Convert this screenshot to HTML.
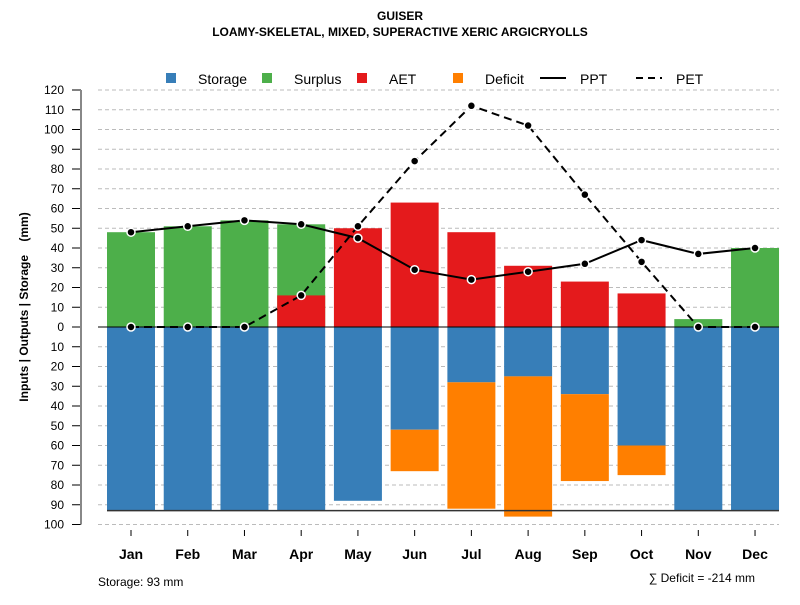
<!DOCTYPE html>
<html><head><meta charset="utf-8"><style>
body{margin:0;background:#fff}
svg text{font-family:"Liberation Sans",Arial,sans-serif}
</style></head><body>
<svg id="chart" width="800" height="600" xmlns="http://www.w3.org/2000/svg">
<text x="400" y="20" text-anchor="middle" font-size="12" font-weight="bold">GUISER</text>
<text x="400" y="36" text-anchor="middle" font-size="12" font-weight="bold">LOAMY-SKELETAL, MIXED, SUPERACTIVE XERIC ARGICRYOLLS</text>
<g id="legend">
<rect x="166" y="73" width="10" height="10" fill="#377EB8"/>
<text x="198" y="84" font-size="14">Storage</text>
<rect x="262" y="73" width="10" height="10" fill="#4DAF4A"/>
<text x="294" y="84" font-size="14">Surplus</text>
<rect x="357" y="73" width="10" height="10" fill="#E41A1C"/>
<text x="389" y="84" font-size="14">AET</text>
<rect x="453" y="73" width="10" height="10" fill="#FF7F00"/>
<text x="485" y="84" font-size="14">Deficit</text>
<line x1="540" y1="78" x2="566" y2="78" stroke="#000" stroke-width="2"/>
<text x="580" y="84" font-size="14">PPT</text>
<line x1="636" y1="78" x2="662" y2="78" stroke="#000" stroke-width="2" stroke-dasharray="7,5"/>
<text x="676" y="84" font-size="14">PET</text>
</g>
<text transform="translate(28,307) rotate(-90)" text-anchor="middle" font-size="12" font-weight="bold" style="white-space:pre">Inputs | Outputs | Storage    (mm)</text>
<text x="98" y="586" font-size="12">Storage: 93 mm</text>
<text x="755" y="582" text-anchor="end" font-size="12">∑ Deficit = -214 mm</text>
<g id="grid"></g><g id="bars"></g><g id="axes"></g><g id="lines"></g>
</svg>
<script>
const months=["Jan","Feb","Mar","Apr","May","Jun","Jul","Aug","Sep","Oct","Nov","Dec"];
const surplus=[48,51,54,52,0,0,0,0,0,0,4,40];
const aet=[0,0,0,16,50,63,48,31,23,17,0,0];
const storage=[93,93,93,93,88,52,28,25,34,60,93,93];
const deficit=[0,0,0,0,0,21,64,71,44,15,0,0];
const ppt=[48,51,54,52,45,29,24,28,32,44,37,40];
const pet=[0,0,0,16,51,84,112,102,67,33,0,0];
const yTicks=[120,110,100,90,80,70,60,50,40,30,20,10,0,-10,-20,-30,-40,-50,-60,-70,-80,-90,-100];
const storageMax=93;
const NS="http://www.w3.org/2000/svg";
const y=v=>327-v*1.975;
const x=i=>131+i*56.73;
const bw=48;
function mk(tag,attrs,parent,txt){const e=document.createElementNS(NS,tag);for(const k in attrs)e.setAttribute(k,attrs[k]);if(txt!==undefined)e.textContent=txt;document.getElementById(parent).appendChild(e);return e;}
yTicks.forEach(t=>{
 if(t!==0){const g=mk('line',{x1:98,x2:779,y1:y(t),y2:y(t),stroke:'#bbb','stroke-dasharray':'4,3'},'grid');
 
 }
 const tk=mk('line',{x1:72,x2:81,y1:y(t),y2:y(t),stroke:'#000'},'axes');
 
 
 const lb=mk('text',{x:64,y:y(t)+4,'text-anchor':'end','font-size':12},'axes',Math.abs(t));
 
 
});
const ax=mk('line',{x1:81,x2:81,y1:y(120),y2:y(-100),stroke:'#888','stroke-width':2},'axes');


months.forEach((m,i)=>{
 const cx=x(i);
 function bar(v0,v1,col,name){if(v1===v0)return;const r=mk('rect',{x:cx-bw/2,y:Math.min(y(v0),y(v1)),width:bw,height:Math.abs(y(v0)-y(v1)),fill:col},'bars');
  
  }
 bar(0,surplus[i],'#4DAF4A','surplus-bar-'+m.toLowerCase());
 bar(0,aet[i],'#E41A1C','aet-bar-'+m.toLowerCase());
 bar(0,-storage[i],'#377EB8','storage-bar-'+m.toLowerCase());
 bar(-storage[i],-storage[i]-deficit[i],'#FF7F00','deficit-bar-'+m.toLowerCase());
 const tk=mk('line',{x1:cx,x2:cx,y1:530,y2:536,stroke:'#000'},'axes');
 
 
 const lb=mk('text',{x:cx,y:559,'text-anchor':'middle','font-size':14,'font-weight':'bold'},'axes',m);
 
 
});
const zl=mk('line',{x1:98,x2:779,y1:y(0),y2:y(0),stroke:'#000'},'bars');


const sl=mk('line',{x1:107,x2:779,y1:y(-storageMax),y2:y(-storageMax),stroke:'#333','stroke-width':1.5},'bars');


function series(vals,dash,name){
 const p=mk('polyline',{points:vals.map((v,i)=>x(i)+','+y(v)).join(' '),fill:'none',stroke:'#000','stroke-width':2,'stroke-dasharray':dash},'lines');
 
 
 vals.forEach((v,i)=>{const c=mk('circle',{cx:x(i),cy:y(v),r:4,fill:'#000',stroke:'#fff','stroke-width':1.5},'lines');
  
  });
}
series(ppt,'none','ppt');
series(pet,'8,5','pet');
</script>
</body></html>
